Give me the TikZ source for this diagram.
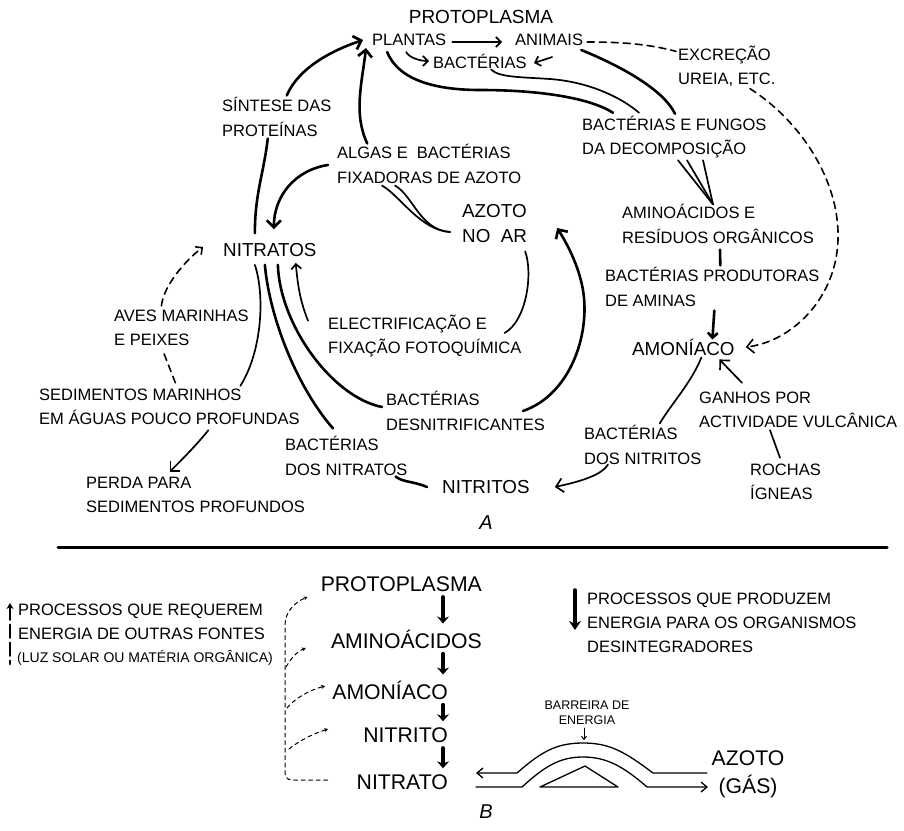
\documentclass[tikz,border=0pt]{standalone}
\usepackage{fontspec}
\setmainfont{Liberation Sans}
\usetikzlibrary{arrows.meta,calc,positioning}

\begin{document}
\begin{tikzpicture}[x=1pt,y=-1pt,line cap=round,line join=round,
  lab/.style={font=\fontsize{16.5}{24.3}\selectfont,align=left,inner sep=0pt,anchor=west},
  big/.style={font=\fontsize{18.8}{25}\selectfont,align=left,inner sep=0pt,anchor=west},
  col/.style={font=\fontsize{21.2}{26}\selectfont,inner sep=0pt,anchor=east},
  thickln/.style={line width=2.6pt},
  thinln/.style={line width=1.7pt},
  dashln/.style={line width=1.6pt,dash pattern=on 7pt off 5pt},
  fineln/.style={line width=1pt,dash pattern=on 4pt off 3.5pt},
  bigtip/.style={-{Straight Barb[length=7pt,width=14pt]}},
  smalltip/.style={-{Straight Barb[length=5pt,width=10pt]}},
  tinytip/.style={-{Stealth[length=4pt,width=4pt]}}]
\useasboundingbox (0,0) rectangle (904,830);

% --- A: the cycle
\node[font=\fontsize{19}{24}\selectfont,inner sep=0pt] (proto) at (481,17) {PROTOPLASMA};
\node[lab] (plantas) at (372,40) {PLANTAS};
\node[lab] (animais) at (515,40) {ANIMAIS};
\node[lab] (bact) at (433,61) {BACTÉRIAS};
\node[lab] (excr) at (678,66) {EXCREÇÃO\\UREIA, ETC.};
\node[lab] (sintese) at (222,117) {SÍNTESE DAS\\PROTEÍNAS};
\node[lab] (algas) at (337,164) {ALGAS E\ \ BACTÉRIAS\\FIXADORAS DE AZOTO};
\node[big] (azoto) at (462,224) {AZOTO\\NO\ \ AR};
\node[lab] (decomp) at (582,137) {BACTÉRIAS E FUNGOS\\DA DECOMPOSIÇÃO};
\node[lab] (amino) at (622,224) {AMINOÁCIDOS E\\RESÍDUOS ORGÂNICOS};
\node[lab] (aminas) at (605,287) {BACTÉRIAS PRODUTORAS\\DE AMINAS};
\node[big] (amon) at (632,347) {AMONÍACO};
\node[big] (nitratos) at (223,250) {NITRATOS};
\node[lab] (aves) at (114,328) {AVES MARINHAS\\E PEIXES};
\node[lab] (electr) at (328,336) {ELECTRIFICAÇÃO E\\FIXAÇÃO FOTOQUÍMICA};
\node[lab] (sedim) at (39,407) {SEDIMENTOS MARINHOS\\EM ÁGUAS POUCO PROFUNDAS};
\node[lab] (desnit) at (386,411) {BACTÉRIAS\\DESNITRIFICANTES};
\node[lab] (bnitratos) at (285,456) {BACTÉRIAS\\DOS NITRATOS};
\node[lab] (perda) at (86,495) {PERDA PARA\\SEDIMENTOS PROFUNDOS};
\node[big] (nitritos) at (442,487) {NITRITOS};
\node[lab] (ganhos) at (699,410) {GANHOS POR\\ACTIVIDADE VULCÂNICA};
\node[lab] (bnitritos) at (584,445) {BACTÉRIAS\\DOS NITRITOS};
\node[lab] (rochas) at (750,482) {ROCHAS\\ÍGNEAS};
\node[font=\fontsize{20}{24}\selectfont\itshape,inner sep=0pt] (labA) at (486,523) {A};

% top row
\draw[thinln,smalltip] ($(plantas.east)+(6,2)$) -- ($(animais.west)+(-13,2)$);
\draw[thinln,smalltip] ($(plantas.south)+(-3,6)$) .. controls +(3,6) and +(-8,0) .. ($(bact.west)+(-4,0)$);
\draw[thinln,smalltip] ($(animais.south)+(3,11)$) -- ($(bact.east)+(7,2)$);
\draw[thickln,bigtip] ($(sintese.north)+(10,-2)$) .. controls +(12,-28) and +(-30,10) .. ($(plantas.west)+(-9,0)$);
\draw[thickln,bigtip] ($(algas.north)+(-62,-1)$) .. controls +(-14,-30) and +(-4,35) .. ($(plantas.west)+(-6,8)$);
\draw[thickln] ($(plantas.south)+(-22,6)$) .. controls +(12,30) and (440,90) .. (480,90)
  .. controls (540,90) and (590,98) .. ($(decomp.north west)+(31,-3)$);
\draw[thinln] ($(bact.south)+(11,1)$) .. controls +(8,8) and (520,77) .. (550,79)
  .. controls (590,82) and (622,98) .. ($(decomp.north west)+(57,-3)$);
\draw[thickln] ($(animais.east)+(-2,10)$) .. controls +(37,15) and +(-12,-25) .. ($(decomp.north west)+(93,-2)$);
\draw[dashln] ($(animais.east)+(4,2)$) .. controls +(30,0) and +(-30,-8) .. ($(excr.north west)+(-2,6)$);
\draw[dashln,bigtip] ($(excr.south west)+(72,2)$) .. controls +(50,32) and (840,180) .. (838,240)
  .. controls (836,300) and (790,342) .. ($(amon.east)+(11,0)$);

% right side
\coordinate (fan) at ($(amino.north west)+(91,0)$);
\foreach \dx in {96,105,121}
  \draw[thinln] ($(decomp.south west)+(\dx,2)$) -- (fan);
\draw[thickln] ($(amino.south)+(2,6)$) -- ($(aminas.north)+(8,-2)$);
\draw[thickln,smalltip] ($(aminas.south)+(2,4)$) -- ($(amon.north)+(29,1)$);
\draw[thinln] ($(amon.south)+(18,2)$) .. controls +(-10,25) and +(12,-20) .. ($(bnitritos.north)+(17,-2)$);
\draw[thinln,bigtip] ($(bnitritos.south west)+(24,0)$) .. controls +(-6,10) and +(28,-6) .. ($(nitritos.east)+(25,0)$);
\draw[thinln,bigtip] ($(ganhos.north west)+(43,-9)$) -- ($(amon.south)+(36,4)$);
\draw[thinln] ($(rochas.north west)+(30,-6)$) -- ($(ganhos.south west)+(71,2)$);

% centre
\draw[thickln,bigtip] ($(desnit.east)+(-22,0)$) .. controls (572,394) and (592,330) .. (582,285)
  .. controls (577,262) and (566,242) .. ($(azoto.east)+(30,4)$);
\draw[thinln] ($(electr.east)+(-17,-3)$) .. controls +(22,-12) and +(8,22) .. ($(azoto.south east)+(-2,8)$);
\draw[thinln,smalltip] ($(electr.north west)+(-20,6)$) .. controls +(-8,-20) and +(2,22) .. ($(nitratos.south east)+(-21,6)$);
\foreach \dx in {45,58}
  \draw[thinln] ($(algas.south west)+(\dx,2)$) .. controls +(18,10) and +(-30,-2) .. ($(azoto.west)+(-12,8)$);
\draw[thickln,bigtip] ($(algas.west)+(-9,1)$) .. controls +(-33,5) and +(0,-33) .. ($(nitratos.north)+(4,-14)$);
\draw[thickln] ($(nitratos.north)+(-15,-10)$) .. controls +(0,-40) and +(-4,35) .. ($(sintese.south)+(-9,2)$);

% left side
\draw[thinln] ($(nitratos.south)+(-15,8)$) .. controls +(10,30) and +(22,-35) .. ($(sedim.north)+(71,-3)$);
\draw[thickln] ($(nitratos.south)+(-5,8)$) .. controls +(5,55) and +(-35,-40) .. ($(bnitratos.north west)+(48,-8)$);
\draw[thickln] ($(nitratos.south)+(8,8)$) .. controls +(2,60) and +(-50,-10) .. ($(desnit.west)+(-4,-4)$);
\draw[dashln] ($(sedim.north)+(6,-6)$) -- ($(aves.south)+(-18,6)$);
\draw[dashln,smalltip] ($(aves.north)+(-20,-4)$) .. controls +(2,-20) and +(-18,14) .. ($(nitratos.west)+(-20,-3)$);
\draw[thinln,bigtip] ($(sedim.south)+(39,5)$) .. controls +(-12,15) and +(12,-12) .. ($(perda.north)+(-26,-5)$);
\draw[thickln] ($(bnitratos.south east)+(-12,1)$) .. controls +(8,6) and +(-14,-6) .. ($(nitritos.west)+(-15,0)$);

% separator
\coordinate (sepL) at (58,547);
\coordinate (sepR) at (887,547);
\draw[line width=3pt] (sepL) -- (sepR);

% --- B: energy ladder
\node[col] (bproto) at (482,584) {PROTOPLASMA};
\node[col] (bamino) at (482,639) {AMINOÁCIDOS};
\node[col] (bamon) at (448,690) {AMONÍACO};
\node[col] (bnitrito) at (448,735) {NITRITO};
\node[col] (bnitrato) at (448,782) {NITRATO};
\coordinate (colx) at (443,0);
\foreach \a/\b in {bproto/bamino,bamino/bamon,bamon/bnitrito,bnitrito/bnitrato}
  \draw[line width=3.2pt,-{Stealth[length=7pt,width=12pt]},shorten <=5pt,shorten >=6pt] (\a.south -| colx) -- (\b.north -| colx);

\node[lab] (req) at (18,622) {PROCESSOS QUE REQUEREM\\ENERGIA DE OUTRAS FONTES};
\node[lab,font=\fontsize{14}{17}\selectfont] (luz) at (17,658) {(LUZ SOLAR OU MATÉRIA ORGÂNICA)};
\coordinate (upA) at (10,603);
\coordinate (upB) at (10,664);
\draw[line width=2.3pt,dash pattern=on 13pt off 5pt,{Stealth[length=6pt,width=7pt]}-] (upA) -- (upB);

\draw[fineln,tinytip] ($(bnitrato.west)+(-29,-2)$) -- (292,780) .. controls (286,780) and (285,776) .. (285,770)
  -- (285,625) .. controls (285,612) and (295,602) .. ($(bproto.west)+(-13,13)$);
\draw[fineln,tinytip] (286,667) .. controls (290,660) and (296,652) .. ($(bamino.west)+(-25,9)$);
\draw[fineln,tinytip] (287,708) .. controls (295,698) and (310,690) .. ($(bamon.west)+(-7,-4)$);
\draw[fineln,tinytip] (289,749) .. controls (300,740) and (315,733) .. ($(bnitrito.west)+(-35,-6)$);

\node[lab] (prod) at (587,623) {PROCESSOS QUE PRODUZEM\\ENERGIA PARA OS ORGANISMOS\\DESINTEGRADORES};
\coordinate (dnA) at (575,590);
\coordinate (dnB) at (575,630);
\draw[line width=3.5pt,-{Stealth[length=9pt,width=12pt]}] (dnA) -- (dnB);

\node[font=\fontsize{12.5}{15}\selectfont,align=center,inner sep=0pt] (barreira) at (587,713) {BARREIRA DE\\ENERGIA};
\draw[line width=1pt,-{Straight Barb[length=3pt,width=5pt]}] ($(barreira.south)+(-3,3)$) -- ($(barreira.south)+(-3,15)$);
\draw[line width=1.3pt,-{Straight Barb[length=6pt,width=10pt]}] (707,773) -- (653,773)
  .. controls (625,752) and (610,743) .. (583,743) .. controls (556,743) and (541,752) .. (517,773) -- (476,773);
\draw[line width=1.3pt,-{Straight Barb[length=6pt,width=10pt]}] (476,787) -- (522,787)
  .. controls (545,766) and (560,757) .. (583,757) .. controls (606,757) and (623,766) .. (647,787) -- (708,787);
\draw[line width=1.3pt] (540,787) -- (585,766) -- (618,787) -- cycle;
\node[font=\fontsize{21.2}{28}\selectfont,align=center,inner sep=0pt] (azgas) at (748,774) {AZOTO\\(GÁS)};
\node[font=\fontsize{20}{24}\selectfont\itshape,inner sep=0pt] (labB) at (486,812) {B};
\end{tikzpicture}
\end{document}
